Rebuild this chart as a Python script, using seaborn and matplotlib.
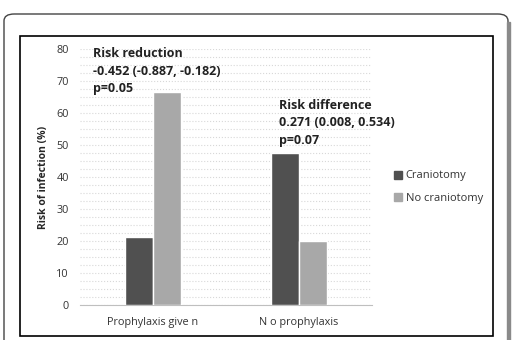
import pandas as pd
import matplotlib.pyplot as plt
import seaborn as sns
from matplotlib.patches import FancyBboxPatch, Rectangle
from matplotlib.ticker import MultipleLocator

groups = ['Prophylaxis give n', 'N o prophylaxis']
series = ['Craniotomy', 'No craniotomy']
craniotomy = [21.4, 47.4]
no_craniotomy = [66.7, 20.0]
colors = {'Craniotomy': '#505050', 'No craniotomy': '#a8a8a8'}

df = pd.DataFrame({
    'group': groups * 2,
    'series': [series[0]] * 2 + [series[1]] * 2,
    'risk': craniotomy + no_craniotomy,
})

sns.set_style('white')
plt.rcParams['font.family'] = ['Open Sans', 'DejaVu Sans']

fig = plt.figure(figsize=(5.13, 3.4), dpi=100)

# outer rounded frame and inner box
outer = FancyBboxPatch((4 / 513, -0.1), 504 / 513, (340 - 14) / 340 + 0.1,
                       boxstyle='round,pad=0,rounding_size=0.02',
                       transform=fig.transFigure, fill=False,
                       edgecolor='#444444', linewidth=1.0, zorder=0)
fig.patches.append(outer)
fig.patches.append(Rectangle((507 / 513, -0.1), 3 / 513, (340 - 22) / 340 + 0.1,
                             transform=fig.transFigure, color='#8a8a8a', zorder=0))
fig.patches.append(Rectangle((20 / 513, 4 / 340), 473 / 513, 300 / 340,
                             transform=fig.transFigure, fill=False,
                             edgecolor='black', linewidth=1.2, zorder=0))

ax = fig.add_axes([80 / 513, 35 / 340, 292 / 513, 256 / 340])
sns.barplot(data=df, x='group', y='risk', hue='series', palette=colors,
            width=0.39, saturation=1, ax=ax, zorder=3, legend=False)

ax.set_ylim(0, 80)
ax.yaxis.set_major_locator(MultipleLocator(10))
ax.yaxis.set_minor_locator(MultipleLocator(2.5))
ax.grid(axis='y', which='both', color='#d8d8d8', linestyle=':', linewidth=0.8, zorder=0)
for s in ['top', 'right', 'left']:
    ax.spines[s].set_visible(False)
ax.spines['bottom'].set_color('#bfbfbf')
ax.tick_params(axis='both', length=0, labelsize=7.8, colors='#333333')
ax.tick_params(axis='y', pad=8)
ax.tick_params(axis='x', pad=9)
ax.set_xlabel('')
ax.set_ylabel('Risk of infection (%)', fontsize=7.5, fontweight='bold', labelpad=5)

ax.text(-0.41, 80.5, 'Risk reduction\n-0.452 (-0.887, -0.182)\np=0.05',
        fontsize=9, fontweight='bold', va='top', ha='left', linespacing=1.45,
        color='#222222')
ax.text(0.86, 64.5, 'Risk difference\n0.271 (0.008, 0.534)\np=0.07',
        fontsize=9, fontweight='bold', va='top', ha='left', linespacing=1.45,
        color='#222222')

handles = [Rectangle((0, 0), 1, 1, color=colors[s]) for s in series]
fig.legend(handles, series, loc='center left', bbox_to_anchor=(384 / 513, 153 / 340),
           frameon=False, fontsize=8, handlelength=0.75, handleheight=0.75,
           handletextpad=0.3, labelspacing=1.0, labelcolor='#333333')

fig.savefig('out.png', dpi=100)
